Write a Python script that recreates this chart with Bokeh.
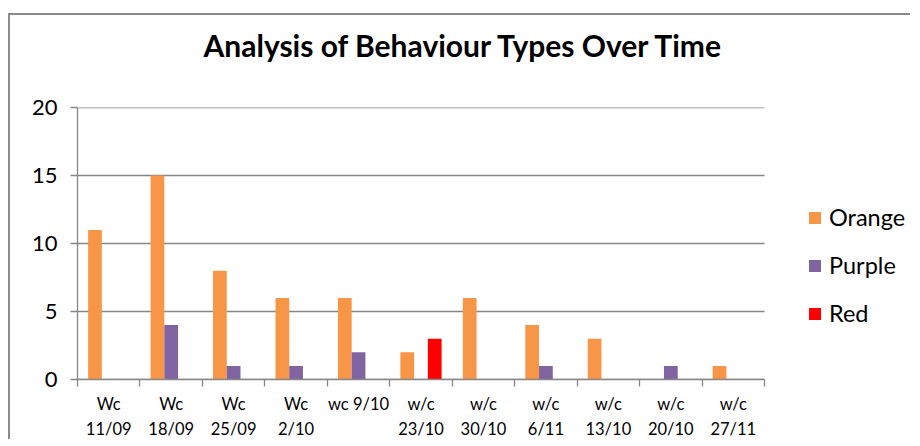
import numpy as np
from bokeh.plotting import figure
from bokeh.models import (ColumnDataSource, Range1d, FixedTicker, LinearAxis, Legend,
                          LegendItem, Title)
from bokeh.transform import dodge
from bokeh.embed import file_html
from bokeh.resources import INLINE

line1 = ["Wc", "Wc", "Wc", "Wc", "wc 9/10", "w/c", "w/c", "w/c", "w/c", "w/c", "w/c"]
line2 = ["11/09", "18/09", "25/09", "2/10", "", "23/10", "30/10", "6/11", "13/10", "20/10", "27/11"]
orange = [11, 15, 8, 6, 6, 2, 6, 4, 3, 0, 1]
purple = [0, 4, 1, 1, 2, 0, 0, 1, 0, 1, 0]
red = [0, 0, 0, 0, 0, 3, 0, 0, 0, 0, 0]
series_names = ["Orange", "Purple", "Red"]
series_colors = ["#F79646", "#8064A2", "#FF0000"]
y_ticks = [0, 5, 10, 15, 20]

n = len(line1)
centers = [i + 0.5 for i in range(n)]
bounds = list(range(n + 1))

src = ColumnDataSource(dict(x=centers, orange=orange, purple=purple, red=red))

FONT = "Lato"
GRID = "#878787"

W, H = 902, 426
LEFT = 67
CAT_PX = 687.0  # pixel width of the category axis
frame_w = W - LEFT
x_end = n * frame_w / CAT_PX

p = figure(width=W, height=H, output_backend="svg", toolbar_location=None,
           title_location=None,
           x_range=Range1d(0, x_end), y_range=Range1d(0, 20),
           min_border_left=LEFT, min_border_right=0, min_border_top=92, min_border_bottom=62,
           x_axis_type=None, y_axis_type=None)
p.outline_line_color = None
p.margin = (13, 0, 0, 8)
p.styles = {"border-top": "2px solid #8a8a8a", "border-left": "2px solid #8a8a8a"}

spacer = Title(text=" ", text_font=FONT, text_font_size="10px", standoff=29)
p.add_layout(spacer, "above")
t = Title(text="Analysis of Behaviour Types Over Time", align="left",
          text_font=FONT, text_font_size="30px", text_font_style="bold",
          text_color="black", standoff=4, offset=126)
p.add_layout(t, "above")

# y axis
yax = LinearAxis(ticker=FixedTicker(ticks=y_ticks))
yax.axis_line_color = GRID
yax.axis_line_width = 1.3
yax.major_tick_line_color = GRID
yax.major_tick_line_width = 1.3
yax.major_tick_in = 0
yax.major_tick_out = 7
yax.minor_tick_line_color = None
yax.major_label_text_font = FONT
yax.major_label_text_font_size = "22px"
yax.major_label_text_color = "black"
yax.major_label_standoff = 13
p.add_layout(yax, "left")

# x axis: first label line, boundary ticks
xax = LinearAxis(ticker=FixedTicker(ticks=centers, minor_ticks=bounds), bounds=(0, n))
xax.axis_line_color = GRID
xax.axis_line_width = 1.3
xax.major_tick_line_color = None
xax.major_tick_in = 0
xax.major_tick_out = 0
xax.minor_tick_line_color = GRID
xax.minor_tick_line_width = 1.3
xax.minor_tick_in = 0
xax.minor_tick_out = 7
xax.major_label_overrides = {c: l for c, l in zip(centers, line1)}
xax.major_label_text_font = FONT
xax.major_label_text_font_size = "16.5px"
xax.major_label_text_color = "black"
xax.major_label_standoff = 7
p.add_layout(xax, "below")

# x axis: second label line
xax2 = LinearAxis(ticker=FixedTicker(ticks=centers), bounds=(0, n))
xax2.axis_line_color = None
xax2.major_tick_line_color = None
xax2.minor_tick_line_color = None
xax2.major_tick_in = 0
xax2.major_tick_out = 0
xax2.major_label_overrides = {c: (l if l else " ") for c, l in zip(centers, line2)}
xax2.major_label_text_font = FONT
xax2.major_label_text_font_size = "16.5px"
xax2.major_label_text_color = "black"
xax2.major_label_standoff = 2
p.add_layout(xax2, "below")

# horizontal grid lines over the category area only
p.segment(x0=[0] * len(y_ticks), x1=[n] * len(y_ticks), y0=y_ticks, y1=y_ticks,
          line_color=GRID, line_width=1.3)

w = 0.22
r1 = p.vbar(x=dodge("x", -w, range=p.x_range), top="orange", width=w, source=src,
            fill_color=series_colors[0], line_color=None)
r2 = p.vbar(x=dodge("x", 0, range=p.x_range), top="purple", width=w, source=src,
            fill_color=series_colors[1], line_color=None)
r3 = p.vbar(x=dodge("x", w, range=p.x_range), top="red", width=w, source=src,
            fill_color=series_colors[2], line_color=None)

legend = Legend(items=[LegendItem(label=series_names[0], renderers=[r1]),
                       LegendItem(label=series_names[1], renderers=[r2]),
                       LegendItem(label=series_names[2], renderers=[r3])],
                location=(730, 52), orientation="vertical")
legend.border_line_color = None
legend.background_fill_alpha = 0
legend.padding = 0
legend.margin = 0
legend.spacing = 20
legend.glyph_width = 15
legend.glyph_height = 15
legend.label_height = 20
legend.label_standoff = 7
legend.label_text_font = FONT
legend.label_text_font_size = "23.5px"
legend.label_text_color = "black"
legend.label_text_baseline = "middle"
p.add_layout(legend, "center")

open("out.html", "w").write(file_html(p, INLINE))
